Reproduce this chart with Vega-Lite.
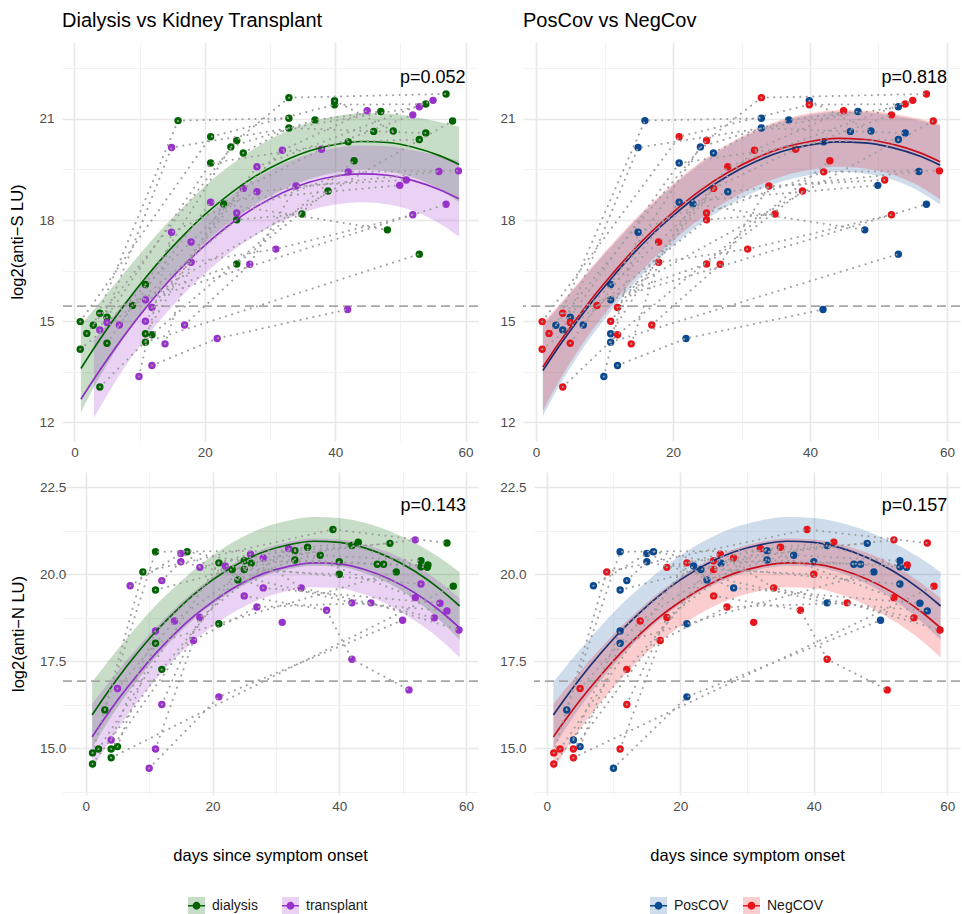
{
"$schema": "https://vega.github.io/schema/vega-lite/v6.json",
"background": "white",
"padding": {"left": 9, "top": 11, "right": 3, "bottom": 2},
"config": {"view": {"stroke": null}, "font": "Liberation Sans", "title": {"fontSize": 20, "fontWeight": "normal", "anchor": "start", "frame": "group", "offset": 11, "color": "#000000"}},
"datasets": {
"S": [
{"d":2.9,"v":14.88,"k":"dialysis","c":"PosCOV","p":"a"},{"d":15.9,"v":20.95,"k":"dialysis","c":"PosCOV","p":"a"},{"d":32.9,"v":21.02,"k":"dialysis","c":"PosCOV","p":"a"},
{"d":5.0,"v":15.12,"k":"dialysis","c":"PosCOV","p":"b"},{"d":20.9,"v":19.69,"k":"dialysis","c":"PosCOV","p":"b"},{"d":42.0,"v":20.32,"k":"dialysis","c":"PosCOV","p":"b"},{"d":52.9,"v":20.39,"k":"dialysis","c":"PosCOV","p":"b"},
{"d":10.9,"v":16.09,"k":"dialysis","c":"PosCOV","p":"c"},{"d":24.0,"v":20.17,"k":"dialysis","c":"PosCOV","p":"c"},{"d":36.9,"v":20.97,"k":"dialysis","c":"PosCOV","p":"c"},{"d":47.0,"v":21.22,"k":"dialysis","c":"PosCOV","p":"c"},
{"d":10.9,"v":14.63,"k":"dialysis","c":"PosCOV","p":"d"},{"d":22.9,"v":18.48,"k":"dialysis","c":"PosCOV","p":"d"},{"d":48.0,"v":17.71,"k":"dialysis","c":"PosCOV","p":"d"},
{"d":10.9,"v":14.38,"k":"dialysis","c":"PosCOV","p":"e"},{"d":52.9,"v":16.99,"k":"dialysis","c":"PosCOV","p":"e"},
{"d":25.9,"v":19.99,"k":"dialysis","c":"PosCOV","p":"f"},{"d":32.9,"v":20.73,"k":"dialysis","c":"PosCOV","p":"f"},{"d":45.9,"v":20.63,"k":"dialysis","c":"PosCOV","p":"f"},{"d":53.9,"v":20.58,"k":"dialysis","c":"PosCOV","p":"f"},
{"d":39.9,"v":21.54,"k":"dialysis","c":"PosCOV","p":"g"},{"d":48.9,"v":20.64,"k":"dialysis","c":"PosCOV","p":"g"},
{"d":0.9,"v":14.99,"k":"dialysis","c":"NegCOV","p":"h"},{"d":20.9,"v":20.47,"k":"dialysis","c":"NegCOV","p":"h"},{"d":39.9,"v":21.42,"k":"dialysis","c":"NegCOV","p":"h"},{"d":53.9,"v":21.44,"k":"dialysis","c":"NegCOV","p":"h"},
{"d":0.9,"v":14.17,"k":"dialysis","c":"NegCOV","p":"i"},{"d":24.9,"v":18.01,"k":"dialysis","c":"NegCOV","p":"i"},{"d":34.9,"v":18.18,"k":"dialysis","c":"NegCOV","p":"i"},
{"d":1.9,"v":14.64,"k":"dialysis","c":"NegCOV","p":"j"},{"d":24.9,"v":20.36,"k":"dialysis","c":"NegCOV","p":"j"},{"d":32.9,"v":21.63,"k":"dialysis","c":"NegCOV","p":"j"},{"d":57.0,"v":21.74,"k":"dialysis","c":"NegCOV","p":"j"},
{"d":3.9,"v":15.24,"k":"dialysis","c":"NegCOV","p":"k"},{"d":24.9,"v":16.70,"k":"dialysis","c":"NegCOV","p":"k"},{"d":38.9,"v":18.86,"k":"dialysis","c":"NegCOV","p":"k"},
{"d":3.9,"v":13.05,"k":"dialysis","c":"NegCOV","p":"l"},{"d":11.9,"v":14.60,"k":"dialysis","c":"NegCOV","p":"l"},{"d":42.9,"v":19.76,"k":"dialysis","c":"NegCOV","p":"l"},
{"d":5.0,"v":14.35,"k":"dialysis","c":"NegCOV","p":"m"},{"d":8.9,"v":15.47,"k":"dialysis","c":"NegCOV","p":"m"},{"d":58.0,"v":20.94,"k":"dialysis","c":"NegCOV","p":"m"},
{"d":3.9,"v":14.74,"k":"transplant","c":"PosCOV","p":"n"},{"d":14.9,"v":20.15,"k":"transplant","c":"PosCOV","p":"n"},{"d":52.9,"v":21.36,"k":"transplant","c":"PosCOV","p":"n"},
{"d":6.9,"v":14.89,"k":"transplant","c":"PosCOV","p":"o"},{"d":20.9,"v":18.53,"k":"transplant","c":"PosCOV","p":"o"},{"d":49.9,"v":19.03,"k":"transplant","c":"PosCOV","p":"o"},
{"d":9.9,"v":13.36,"k":"transplant","c":"PosCOV","p":"q1"},{"d":14.9,"v":17.64,"k":"transplant","c":"PosCOV","p":"q1"},{"d":28.0,"v":18.84,"k":"transplant","c":"PosCOV","p":"q1"},{"d":55.9,"v":19.44,"k":"transplant","c":"PosCOV","p":"q1"},
{"d":11.9,"v":13.69,"k":"transplant","c":"PosCOV","p":"q"},{"d":21.9,"v":14.49,"k":"transplant","c":"PosCOV","p":"q"},{"d":41.9,"v":15.35,"k":"transplant","c":"PosCOV","p":"q"},
{"d":10.9,"v":15.64,"k":"transplant","c":"PosCOV","p":"r"},{"d":57.0,"v":18.47,"k":"transplant","c":"PosCOV","p":"r"},
{"d":5.0,"v":14.96,"k":"transplant","c":"NegCOV","p":"s"},{"d":17.9,"v":17.35,"k":"transplant","c":"NegCOV","p":"s"},{"d":31.9,"v":20.07,"k":"transplant","c":"NegCOV","p":"s"},{"d":44.9,"v":21.24,"k":"transplant","c":"NegCOV","p":"s"},
{"d":10.9,"v":15.00,"k":"transplant","c":"NegCOV","p":"t"},{"d":25.9,"v":18.94,"k":"transplant","c":"NegCOV","p":"t"},{"d":37.9,"v":20.10,"k":"transplant","c":"NegCOV","p":"t"},{"d":51.9,"v":21.12,"k":"transplant","c":"NegCOV","p":"t"},
{"d":11.9,"v":15.41,"k":"transplant","c":"NegCOV","p":"u"},{"d":28.0,"v":19.58,"k":"transplant","c":"NegCOV","p":"u"},{"d":55.0,"v":21.55,"k":"transplant","c":"NegCOV","p":"u"},
{"d":13.9,"v":14.33,"k":"transplant","c":"NegCOV","p":"v"},{"d":17.9,"v":16.75,"k":"transplant","c":"NegCOV","p":"v"},{"d":30.9,"v":17.14,"k":"transplant","c":"NegCOV","p":"v"},{"d":51.9,"v":18.16,"k":"transplant","c":"NegCOV","p":"v"},
{"d":16.9,"v":14.89,"k":"transplant","c":"NegCOV","p":"w"},{"d":26.9,"v":16.69,"k":"transplant","c":"NegCOV","p":"w"},{"d":34.0,"v":19.01,"k":"transplant","c":"NegCOV","p":"w"},{"d":50.9,"v":19.19,"k":"transplant","c":"NegCOV","p":"w"},
{"d":24.9,"v":18.21,"k":"transplant","c":"NegCOV","p":"x"},{"d":42.0,"v":19.43,"k":"transplant","c":"NegCOV","p":"x"},{"d":58.9,"v":19.46,"k":"transplant","c":"NegCOV","p":"x"}
],
"N": [
{"d":3.0,"v":16.10,"k":"dialysis","c":"PosCOV","p":"A"},{"d":11.0,"v":20.65,"k":"dialysis","c":"PosCOV","p":"A"},{"d":33.0,"v":20.68,"k":"dialysis","c":"PosCOV","p":"A"},{"d":48.0,"v":20.89,"k":"dialysis","c":"PosCOV","p":"A"},
{"d":5.0,"v":15.05,"k":"dialysis","c":"PosCOV","p":"B"},{"d":11.0,"v":18.02,"k":"dialysis","c":"PosCOV","p":"B"},{"d":21.0,"v":18.58,"k":"dialysis","c":"PosCOV","p":"B"},{"d":49.0,"v":20.07,"k":"dialysis","c":"PosCOV","p":"B"},
{"d":11.0,"v":19.55,"k":"dialysis","c":"PosCOV","p":"C"},{"d":23.1,"v":20.14,"k":"dialysis","c":"PosCOV","p":"C"},{"d":37.0,"v":20.55,"k":"dialysis","c":"PosCOV","p":"C"},{"d":52.9,"v":20.39,"k":"dialysis","c":"PosCOV","p":"C"},
{"d":16.0,"v":20.65,"k":"dialysis","c":"PosCOV","p":"D"},{"d":26.1,"v":20.32,"k":"dialysis","c":"PosCOV","p":"D"},{"d":42.0,"v":20.83,"k":"dialysis","c":"PosCOV","p":"D"},{"d":52.9,"v":20.22,"k":"dialysis","c":"PosCOV","p":"D"},
{"d":24.0,"v":19.84,"k":"dialysis","c":"PosCOV","p":"E"},{"d":33.0,"v":20.41,"k":"dialysis","c":"PosCOV","p":"E"},{"d":46.0,"v":20.29,"k":"dialysis","c":"PosCOV","p":"E"},{"d":53.9,"v":20.20,"k":"dialysis","c":"PosCOV","p":"E"},
{"d":40.0,"v":20.36,"k":"dialysis","c":"PosCOV","p":"F"},{"d":47.0,"v":20.29,"k":"dialysis","c":"PosCOV","p":"F"},
{"d":1.06,"v":14.55,"k":"dialysis","c":"NegCOV","p":"G"},{"d":12.0,"v":17.27,"k":"dialysis","c":"NegCOV","p":"G"},{"d":25.0,"v":20.14,"k":"dialysis","c":"NegCOV","p":"G"},{"d":40.0,"v":20.00,"k":"dialysis","c":"NegCOV","p":"G"},
{"d":1.06,"v":14.87,"k":"dialysis","c":"NegCOV","p":"H"},{"d":9.0,"v":20.07,"k":"dialysis","c":"NegCOV","p":"H"},{"d":39.0,"v":21.29,"k":"dialysis","c":"NegCOV","p":"H"},{"d":57.0,"v":20.90,"k":"dialysis","c":"NegCOV","p":"H"},
{"d":2.0,"v":14.98,"k":"dialysis","c":"NegCOV","p":"I"},{"d":21.0,"v":20.33,"k":"dialysis","c":"NegCOV","p":"I"},{"d":35.0,"v":20.78,"k":"dialysis","c":"NegCOV","p":"I"},{"d":43.0,"v":20.92,"k":"dialysis","c":"NegCOV","p":"I"},
{"d":4.0,"v":14.98,"k":"dialysis","c":"NegCOV","p":"J"},{"d":25.0,"v":20.39,"k":"dialysis","c":"NegCOV","p":"J"},{"d":54.0,"v":20.27,"k":"dialysis","c":"NegCOV","p":"J"},
{"d":4.0,"v":14.73,"k":"dialysis","c":"NegCOV","p":"K"},{"d":58.0,"v":19.66,"k":"dialysis","c":"NegCOV","p":"K"},
{"d":4.0,"v":15.24,"k":"transplant","c":"PosCOV","p":"L"},{"d":11.0,"v":18.37,"k":"transplant","c":"PosCOV","p":"L"},{"d":22.0,"v":20.24,"k":"transplant","c":"PosCOV","p":"L"},{"d":52.9,"v":19.72,"k":"transplant","c":"PosCOV","p":"L"},
{"d":7.0,"v":19.67,"k":"transplant","c":"PosCOV","p":"M"},{"d":15.0,"v":20.60,"k":"transplant","c":"PosCOV","p":"M"},{"d":28.0,"v":19.61,"k":"transplant","c":"PosCOV","p":"M"},{"d":55.9,"v":19.17,"k":"transplant","c":"PosCOV","p":"M"},
{"d":10.0,"v":14.43,"k":"transplant","c":"PosCOV","p":"N"},{"d":21.0,"v":16.48,"k":"transplant","c":"PosCOV","p":"N"},{"d":50.0,"v":18.68,"k":"transplant","c":"PosCOV","p":"N"},
{"d":12.0,"v":19.82,"k":"transplant","c":"PosCOV","p":"O"},{"d":15.0,"v":20.36,"k":"transplant","c":"PosCOV","p":"O"},{"d":42.0,"v":19.18,"k":"transplant","c":"PosCOV","p":"O"},{"d":57.0,"v":18.95,"k":"transplant","c":"PosCOV","p":"O"},
{"d":5.0,"v":16.72,"k":"transplant","c":"NegCOV","p":"P"},{"d":14.0,"v":18.66,"k":"transplant","c":"NegCOV","p":"P"},{"d":28.0,"v":20.47,"k":"transplant","c":"NegCOV","p":"P"},{"d":52.0,"v":20.99,"k":"transplant","c":"NegCOV","p":"P"},
{"d":12.0,"v":16.26,"k":"transplant","c":"NegCOV","p":"Q"},{"d":18.0,"v":18.76,"k":"transplant","c":"NegCOV","p":"Q"},{"d":32.0,"v":20.74,"k":"transplant","c":"NegCOV","p":"Q"},{"d":52.0,"v":19.33,"k":"transplant","c":"NegCOV","p":"Q"},
{"d":11.0,"v":14.98,"k":"transplant","c":"NegCOV","p":"R"},{"d":17.0,"v":18.10,"k":"transplant","c":"NegCOV","p":"R"},{"d":27.0,"v":19.06,"k":"transplant","c":"NegCOV","p":"R"},{"d":45.0,"v":19.18,"k":"transplant","c":"NegCOV","p":"R"},{"d":58.9,"v":18.40,"k":"transplant","c":"NegCOV","p":"R"},
{"d":18.0,"v":20.20,"k":"transplant","c":"NegCOV","p":"S"},{"d":26.0,"v":20.58,"k":"transplant","c":"NegCOV","p":"S"},{"d":34.0,"v":19.61,"k":"transplant","c":"NegCOV","p":"S"},{"d":55.0,"v":18.75,"k":"transplant","c":"NegCOV","p":"S"},
{"d":25.0,"v":19.38,"k":"transplant","c":"NegCOV","p":"T"},{"d":38.0,"v":18.97,"k":"transplant","c":"NegCOV","p":"T"},{"d":42.0,"v":17.56,"k":"transplant","c":"NegCOV","p":"T"},{"d":51.0,"v":16.68,"k":"transplant","c":"NegCOV","p":"T"},
{"d":31.0,"v":18.62,"k":"transplant","c":"NegCOV","p":"U"}
],
"fSk": [
{"d":1,"g":"dialysis","f":13.60,"lo":12.30,"hi":14.90},{"d":3,"g":"dialysis","f":14.20,"lo":13.05,"hi":15.35},{"d":5,"g":"dialysis","f":14.77,"lo":13.72,"hi":15.82},{"d":8,"g":"dialysis","f":15.57,"lo":14.62,"hi":16.52},{"d":11,"g":"dialysis","f":16.31,"lo":15.41,"hi":17.21},{"d":14,"g":"dialysis","f":16.99,"lo":16.12,"hi":17.86},{"d":17,"g":"dialysis","f":17.60,"lo":16.75,"hi":18.45},{"d":20,"g":"dialysis","f":18.16,"lo":17.32,"hi":19.00},{"d":24,"g":"dialysis","f":18.80,"lo":17.96,"hi":19.64},{"d":28,"g":"dialysis","f":19.33,"lo":18.49,"hi":20.17},{"d":32,"g":"dialysis","f":19.74,"lo":18.90,"hi":20.58},{"d":36,"g":"dialysis","f":20.05,"lo":19.21,"hi":20.89},{"d":40,"g":"dialysis","f":20.24,"lo":19.40,"hi":21.08},{"d":44,"g":"dialysis","f":20.33,"lo":19.49,"hi":21.17},{"d":48,"g":"dialysis","f":20.30,"lo":19.44,"hi":21.16},{"d":52,"g":"dialysis","f":20.16,"lo":19.26,"hi":21.06},{"d":56,"g":"dialysis","f":19.91,"lo":18.91,"hi":20.91},{"d":59,"g":"dialysis","f":19.65,"lo":18.53,"hi":20.77},
{"d":1,"g":"transplant","f":12.69,"lo":null,"hi":null},{"d":3,"g":"transplant","f":13.29,"lo":12.14,"hi":14.44},{"d":5,"g":"transplant","f":13.86,"lo":12.81,"hi":14.91},{"d":8,"g":"transplant","f":14.67,"lo":13.72,"hi":15.62},{"d":11,"g":"transplant","f":15.41,"lo":14.51,"hi":16.31},{"d":14,"g":"transplant","f":16.09,"lo":15.22,"hi":16.96},{"d":17,"g":"transplant","f":16.70,"lo":15.85,"hi":17.55},{"d":20,"g":"transplant","f":17.25,"lo":16.41,"hi":18.09},{"d":24,"g":"transplant","f":17.89,"lo":17.05,"hi":18.73},{"d":28,"g":"transplant","f":18.41,"lo":17.57,"hi":19.25},{"d":32,"g":"transplant","f":18.82,"lo":17.98,"hi":19.66},{"d":36,"g":"transplant","f":19.12,"lo":18.28,"hi":19.96},{"d":40,"g":"transplant","f":19.30,"lo":18.46,"hi":20.14},{"d":44,"g":"transplant","f":19.37,"lo":18.53,"hi":20.21},{"d":48,"g":"transplant","f":19.33,"lo":18.47,"hi":20.19},{"d":52,"g":"transplant","f":19.17,"lo":18.27,"hi":20.07},{"d":56,"g":"transplant","f":18.90,"lo":17.90,"hi":19.90},{"d":59,"g":"transplant","f":18.63,"lo":17.51,"hi":19.75}
],
"fSc": [
{"d":1,"g":"PosCOV","f":13.54,"lo":12.19,"hi":14.89},{"d":3,"g":"PosCOV","f":14.15,"lo":12.95,"hi":15.35},{"d":5,"g":"PosCOV","f":14.72,"lo":13.62,"hi":15.82},{"d":8,"g":"PosCOV","f":15.53,"lo":14.53,"hi":16.53},{"d":11,"g":"PosCOV","f":16.27,"lo":15.32,"hi":17.22},{"d":14,"g":"PosCOV","f":16.96,"lo":16.04,"hi":17.88},{"d":17,"g":"PosCOV","f":17.58,"lo":16.68,"hi":18.48},{"d":20,"g":"PosCOV","f":18.13,"lo":17.24,"hi":19.02},{"d":24,"g":"PosCOV","f":18.78,"lo":17.89,"hi":19.67},{"d":28,"g":"PosCOV","f":19.31,"lo":18.42,"hi":20.20},{"d":32,"g":"PosCOV","f":19.73,"lo":18.84,"hi":20.62},{"d":36,"g":"PosCOV","f":20.04,"lo":19.15,"hi":20.93},{"d":40,"g":"PosCOV","f":20.23,"lo":19.34,"hi":21.12},{"d":44,"g":"PosCOV","f":20.32,"lo":19.43,"hi":21.21},{"d":48,"g":"PosCOV","f":20.29,"lo":19.38,"hi":21.20},{"d":52,"g":"PosCOV","f":20.15,"lo":19.20,"hi":21.10},{"d":56,"g":"PosCOV","f":19.90,"lo":18.85,"hi":20.95},{"d":59,"g":"PosCOV","f":19.63,"lo":18.46,"hi":20.80},
{"d":1,"g":"NegCOV","f":13.64,"lo":12.34,"hi":14.94},{"d":3,"g":"NegCOV","f":14.25,"lo":13.10,"hi":15.40},{"d":5,"g":"NegCOV","f":14.82,"lo":13.77,"hi":15.87},{"d":8,"g":"NegCOV","f":15.63,"lo":14.68,"hi":16.58},{"d":11,"g":"NegCOV","f":16.37,"lo":15.47,"hi":17.27},{"d":14,"g":"NegCOV","f":17.06,"lo":16.19,"hi":17.93},{"d":17,"g":"NegCOV","f":17.68,"lo":16.83,"hi":18.53},{"d":20,"g":"NegCOV","f":18.23,"lo":17.39,"hi":19.07},{"d":24,"g":"NegCOV","f":18.88,"lo":18.04,"hi":19.72},{"d":28,"g":"NegCOV","f":19.41,"lo":18.57,"hi":20.25},{"d":32,"g":"NegCOV","f":19.83,"lo":18.99,"hi":20.67},{"d":36,"g":"NegCOV","f":20.14,"lo":19.30,"hi":20.98},{"d":40,"g":"NegCOV","f":20.33,"lo":19.49,"hi":21.17},{"d":44,"g":"NegCOV","f":20.42,"lo":19.58,"hi":21.26},{"d":48,"g":"NegCOV","f":20.39,"lo":19.53,"hi":21.25},{"d":52,"g":"NegCOV","f":20.25,"lo":19.35,"hi":21.15},{"d":56,"g":"NegCOV","f":20.00,"lo":19.00,"hi":21.00},{"d":59,"g":"NegCOV","f":19.73,"lo":18.61,"hi":20.85}
],
"fNk": [
{"d":1,"g":"dialysis","f":15.96,"lo":15.01,"hi":16.91},{"d":3,"g":"dialysis","f":16.50,"lo":15.62,"hi":17.38},{"d":5,"g":"dialysis","f":17.01,"lo":16.18,"hi":17.84},{"d":8,"g":"dialysis","f":17.71,"lo":16.93,"hi":18.49},{"d":11,"g":"dialysis","f":18.35,"lo":17.60,"hi":19.10},{"d":14,"g":"dialysis","f":18.91,"lo":18.19,"hi":19.63},{"d":17,"g":"dialysis","f":19.41,"lo":18.70,"hi":20.12},{"d":20,"g":"dialysis","f":19.84,"lo":19.14,"hi":20.54},{"d":24,"g":"dialysis","f":20.30,"lo":19.60,"hi":21.00},{"d":28,"g":"dialysis","f":20.64,"lo":19.94,"hi":21.34},{"d":32,"g":"dialysis","f":20.85,"lo":20.15,"hi":21.55},{"d":36,"g":"dialysis","f":20.95,"lo":20.25,"hi":21.65},{"d":40,"g":"dialysis","f":20.92,"lo":20.22,"hi":21.62},{"d":44,"g":"dialysis","f":20.76,"lo":20.04,"hi":21.48},{"d":48,"g":"dialysis","f":20.48,"lo":19.72,"hi":21.24},{"d":52,"g":"dialysis","f":20.08,"lo":19.26,"hi":20.90},{"d":56,"g":"dialysis","f":19.56,"lo":18.66,"hi":20.46},{"d":59,"g":"dialysis","f":19.09,"lo":18.12,"hi":20.06},
{"d":1,"g":"transplant","f":15.33,"lo":14.38,"hi":16.28},{"d":3,"g":"transplant","f":15.87,"lo":14.99,"hi":16.75},{"d":5,"g":"transplant","f":16.38,"lo":15.55,"hi":17.21},{"d":8,"g":"transplant","f":17.08,"lo":16.30,"hi":17.86},{"d":11,"g":"transplant","f":17.72,"lo":16.97,"hi":18.47},{"d":14,"g":"transplant","f":18.29,"lo":17.57,"hi":19.01},{"d":17,"g":"transplant","f":18.79,"lo":18.08,"hi":19.50},{"d":20,"g":"transplant","f":19.21,"lo":18.51,"hi":19.91},{"d":24,"g":"transplant","f":19.68,"lo":18.98,"hi":20.38},{"d":28,"g":"transplant","f":20.02,"lo":19.32,"hi":20.72},{"d":32,"g":"transplant","f":20.23,"lo":19.53,"hi":20.93},{"d":36,"g":"transplant","f":20.33,"lo":19.63,"hi":21.03},{"d":40,"g":"transplant","f":20.30,"lo":19.60,"hi":21.00},{"d":44,"g":"transplant","f":20.14,"lo":19.42,"hi":20.86},{"d":48,"g":"transplant","f":19.86,"lo":19.10,"hi":20.62},{"d":52,"g":"transplant","f":19.46,"lo":18.66,"hi":20.26},{"d":56,"g":"transplant","f":18.94,"lo":18.12,"hi":19.76},{"d":59,"g":"transplant","f":18.46,"lo":17.61,"hi":19.31}
],
"fNc": [
{"d":1,"g":"PosCOV","f":15.96,"lo":15.01,"hi":16.91},{"d":3,"g":"PosCOV","f":16.50,"lo":15.62,"hi":17.38},{"d":5,"g":"PosCOV","f":17.01,"lo":16.18,"hi":17.84},{"d":8,"g":"PosCOV","f":17.71,"lo":16.93,"hi":18.49},{"d":11,"g":"PosCOV","f":18.35,"lo":17.60,"hi":19.10},{"d":14,"g":"PosCOV","f":18.91,"lo":18.19,"hi":19.63},{"d":17,"g":"PosCOV","f":19.41,"lo":18.70,"hi":20.12},{"d":20,"g":"PosCOV","f":19.84,"lo":19.14,"hi":20.54},{"d":24,"g":"PosCOV","f":20.30,"lo":19.60,"hi":21.00},{"d":28,"g":"PosCOV","f":20.64,"lo":19.94,"hi":21.34},{"d":32,"g":"PosCOV","f":20.85,"lo":20.15,"hi":21.55},{"d":36,"g":"PosCOV","f":20.95,"lo":20.25,"hi":21.65},{"d":40,"g":"PosCOV","f":20.92,"lo":20.22,"hi":21.62},{"d":44,"g":"PosCOV","f":20.76,"lo":20.04,"hi":21.48},{"d":48,"g":"PosCOV","f":20.48,"lo":19.72,"hi":21.24},{"d":52,"g":"PosCOV","f":20.08,"lo":19.26,"hi":20.90},{"d":56,"g":"PosCOV","f":19.56,"lo":18.66,"hi":20.46},{"d":59,"g":"PosCOV","f":19.09,"lo":18.12,"hi":20.06},
{"d":1,"g":"NegCOV","f":15.33,"lo":14.38,"hi":16.28},{"d":3,"g":"NegCOV","f":15.87,"lo":14.99,"hi":16.75},{"d":5,"g":"NegCOV","f":16.38,"lo":15.55,"hi":17.21},{"d":8,"g":"NegCOV","f":17.08,"lo":16.30,"hi":17.86},{"d":11,"g":"NegCOV","f":17.72,"lo":16.97,"hi":18.47},{"d":14,"g":"NegCOV","f":18.29,"lo":17.57,"hi":19.01},{"d":17,"g":"NegCOV","f":18.79,"lo":18.08,"hi":19.50},{"d":20,"g":"NegCOV","f":19.21,"lo":18.51,"hi":19.91},{"d":24,"g":"NegCOV","f":19.68,"lo":18.98,"hi":20.38},{"d":28,"g":"NegCOV","f":20.02,"lo":19.32,"hi":20.72},{"d":32,"g":"NegCOV","f":20.23,"lo":19.53,"hi":20.93},{"d":36,"g":"NegCOV","f":20.33,"lo":19.63,"hi":21.03},{"d":40,"g":"NegCOV","f":20.30,"lo":19.60,"hi":21.00},{"d":44,"g":"NegCOV","f":20.14,"lo":19.42,"hi":20.86},{"d":48,"g":"NegCOV","f":19.86,"lo":19.10,"hi":20.62},{"d":52,"g":"NegCOV","f":19.46,"lo":18.66,"hi":20.26},{"d":56,"g":"NegCOV","f":18.94,"lo":18.12,"hi":19.76},{"d":59,"g":"NegCOV","f":18.46,"lo":17.61,"hi":19.31}
]
},
"columns": 2,
"align": "none",
"spacing": {"row": 13, "column": 20},
"resolve": {"scale": {"x": "independent", "y": "independent", "color": "independent", "fill": "independent", "stroke": "independent"}},
"concat": [
{"width": 416, "height": 399, "title": "Dialysis vs Kidney Transplant",
 "layer": [
  {"data": {"name": "fSk"}, "mark": {"type": "area", "fillOpacity": 0.22, "interpolate": "monotone"},
   "encoding": {"x": {"field": "d", "type": "quantitative", "scale": {"domain": [-1.9, 61.9], "nice": false, "zero": false}, "axis": {"orient": "bottom", "values": [10, 30, 50], "grid": true, "gridColor": "#f2f2f2", "gridWidth": 1, "ticks": false, "domain": false, "labels": false, "title": null}},
    "y": {"field": "lo", "type": "quantitative", "scale": {"domain": [11.45, 23.28], "nice": false, "zero": false}, "axis": {"orient": "left", "values": [13.5, 16.5, 19.5, 22.5], "grid": true, "gridColor": "#f2f2f2", "gridWidth": 1, "ticks": false, "domain": false, "labels": false, "title": null}},
    "y2": {"field": "hi"},
    "fill": {"field": "g", "type": "nominal", "scale": {"domain": ["dialysis", "transplant"], "range": ["#006400", "#9932CC"]}, "legend": null}}},
  {"data": {"values": [{"thr": 15.45}]}, "mark": {"type": "rule", "color": "#a6a6a6", "strokeWidth": 1.8, "strokeDash": [9, 5]},
   "encoding": {"y": {"field": "thr", "type": "quantitative", "scale": {"domain": [11.45, 23.28], "nice": false, "zero": false}, "axis": null}}},
  {"data": {"name": "S"}, "mark": {"type": "point", "filled": true, "opacity": 1, "size": 55},
   "encoding": {"x": {"field": "d", "type": "quantitative", "scale": {"domain": [-1.9, 61.9], "nice": false, "zero": false}, "axis": {"orient": "bottom", "values": [0, 20, 40, 60], "title": null, "grid": true, "gridColor": "#e8e8e8", "gridWidth": 1.6, "ticks": false, "domain": false, "labelFontSize": 13.5, "labelColor": "#4d4d4d", "labelPadding": 4}},
    "y": {"field": "v", "type": "quantitative", "scale": {"domain": [11.45, 23.28], "nice": false, "zero": false}, "axis": {"orient": "left", "values": [12, 15, 18, 21], "title": "log2(anti−S LU)", "titleFontSize": 16.5, "titleFontWeight": "normal", "titleColor": "#000000", "titlePadding": 13, "grid": true, "gridColor": "#e8e8e8", "gridWidth": 1.6, "ticks": false, "domain": false, "labelFontSize": 13.5, "labelColor": "#4d4d4d", "labelPadding": 8}},
    "color": {"field": "k", "type": "nominal", "scale": {"domain": ["dialysis", "transplant"], "range": ["#006400", "#9932CC"]}, "legend": null}}},
  {"data": {"name": "fSk"}, "mark": {"type": "line", "strokeWidth": 1.7, "interpolate": "monotone"},
   "encoding": {"x": {"field": "d", "type": "quantitative", "scale": {"domain": [-1.9, 61.9], "nice": false, "zero": false}, "axis": null},
    "y": {"field": "f", "type": "quantitative", "scale": {"domain": [11.45, 23.28], "nice": false, "zero": false}, "axis": null},
    "stroke": {"field": "g", "type": "nominal", "scale": {"domain": ["dialysis", "transplant"], "range": ["#006400", "#8f2fc4"]}, "legend": null}}},
  {"data": {"name": "S"}, "mark": {"type": "line", "color": "#9e9e9e", "strokeWidth": 2, "strokeDash": [0.1, 6.4], "strokeCap": "round"},
   "encoding": {"x": {"field": "d", "type": "quantitative", "scale": {"domain": [-1.9, 61.9], "nice": false, "zero": false}, "axis": null},
    "y": {"field": "v", "type": "quantitative", "scale": {"domain": [11.45, 23.28], "nice": false, "zero": false}, "axis": null},
    "detail": {"field": "p", "type": "nominal"}}},
  {"data": {"values": [{"t": "p=0.052"}]}, "mark": {"type": "text", "align": "right", "baseline": "middle", "fontSize": 18, "color": "#000000"},
   "encoding": {"x": {"datum": 60, "type": "quantitative", "scale": {"domain": [-1.9, 61.9], "nice": false, "zero": false}, "axis": null},
    "y": {"datum": 22.2, "type": "quantitative", "scale": {"domain": [11.45, 23.28], "nice": false, "zero": false}, "axis": null},
    "text": {"field": "t"}}}
 ],
 "resolve": {"axis": {"x": "independent", "y": "independent"}}
},
{"width": 437, "height": 399, "title": "PosCov vs NegCov",
 "layer": [
  {"data": {"name": "fSc"}, "mark": {"type": "area", "fillOpacity": 0.22, "interpolate": "monotone"},
   "encoding": {"x": {"field": "d", "type": "quantitative", "scale": {"domain": [-1.9, 61.9], "nice": false, "zero": false}, "axis": {"orient": "bottom", "values": [10, 30, 50], "grid": true, "gridColor": "#f2f2f2", "gridWidth": 1, "ticks": false, "domain": false, "labels": false, "title": null}},
    "y": {"field": "lo", "type": "quantitative", "scale": {"domain": [11.45, 23.28], "nice": false, "zero": false}, "axis": {"orient": "left", "values": [13.5, 16.5, 19.5, 22.5], "grid": true, "gridColor": "#f2f2f2", "gridWidth": 1, "ticks": false, "domain": false, "labels": false, "title": null}},
    "y2": {"field": "hi"},
    "fill": {"field": "g", "type": "nominal", "scale": {"domain": ["PosCOV", "NegCOV"], "range": ["#1f5fa8", "#ee1c25"]}, "legend": null}}},
  {"data": {"values": [{"thr": 15.45}]}, "mark": {"type": "rule", "color": "#a6a6a6", "strokeWidth": 1.8, "strokeDash": [9, 5]},
   "encoding": {"y": {"field": "thr", "type": "quantitative", "scale": {"domain": [11.45, 23.28], "nice": false, "zero": false}, "axis": null}}},
  {"data": {"name": "S"}, "mark": {"type": "point", "filled": true, "opacity": 1, "size": 55},
   "encoding": {"x": {"field": "d", "type": "quantitative", "scale": {"domain": [-1.9, 61.9], "nice": false, "zero": false}, "axis": {"orient": "bottom", "values": [0, 20, 40, 60], "title": null, "grid": true, "gridColor": "#e8e8e8", "gridWidth": 1.6, "ticks": false, "domain": false, "labelFontSize": 13.5, "labelColor": "#4d4d4d", "labelPadding": 4}},
    "y": {"field": "v", "type": "quantitative", "scale": {"domain": [11.45, 23.28], "nice": false, "zero": false}, "axis": {"orient": "left", "values": [12, 15, 18, 21], "title": null, "grid": true, "gridColor": "#e8e8e8", "gridWidth": 1.6, "ticks": false, "domain": false, "labelFontSize": 13.5, "labelColor": "#4d4d4d", "labelPadding": 8}},
    "color": {"field": "c", "type": "nominal", "scale": {"domain": ["PosCOV", "NegCOV"], "range": ["#0b4a90", "#e8141c"]}, "legend": null}}},
  {"data": {"name": "fSc"}, "mark": {"type": "line", "strokeWidth": 1.7, "interpolate": "monotone"},
   "encoding": {"x": {"field": "d", "type": "quantitative", "scale": {"domain": [-1.9, 61.9], "nice": false, "zero": false}, "axis": null},
    "y": {"field": "f", "type": "quantitative", "scale": {"domain": [11.45, 23.28], "nice": false, "zero": false}, "axis": null},
    "stroke": {"field": "g", "type": "nominal", "scale": {"domain": ["PosCOV", "NegCOV"], "range": ["#1b2f73", "#c8101c"]}, "legend": null}}},
  {"data": {"name": "S"}, "mark": {"type": "line", "color": "#9e9e9e", "strokeWidth": 2, "strokeDash": [0.1, 6.4], "strokeCap": "round"},
   "encoding": {"x": {"field": "d", "type": "quantitative", "scale": {"domain": [-1.9, 61.9], "nice": false, "zero": false}, "axis": null},
    "y": {"field": "v", "type": "quantitative", "scale": {"domain": [11.45, 23.28], "nice": false, "zero": false}, "axis": null},
    "detail": {"field": "p", "type": "nominal"}}},
  {"data": {"values": [{"t": "p=0.818"}]}, "mark": {"type": "text", "align": "right", "baseline": "middle", "fontSize": 18, "color": "#000000"},
   "encoding": {"x": {"datum": 60, "type": "quantitative", "scale": {"domain": [-1.9, 61.9], "nice": false, "zero": false}, "axis": null},
    "y": {"datum": 22.2, "type": "quantitative", "scale": {"domain": [11.45, 23.28], "nice": false, "zero": false}, "axis": null},
    "text": {"field": "t"}}}
 ],
 "resolve": {"axis": {"x": "independent", "y": "independent"}}
},
{"width": 416, "height": 323,
 "layer": [
  {"data": {"name": "fNk"}, "mark": {"type": "area", "fillOpacity": 0.22, "interpolate": "monotone"},
   "encoding": {"x": {"field": "d", "type": "quantitative", "scale": {"domain": [-3.76, 61.9], "nice": false, "zero": false}, "axis": {"orient": "bottom", "values": [10, 30, 50], "grid": true, "gridColor": "#f2f2f2", "gridWidth": 1, "ticks": false, "domain": false, "labels": false, "title": null}},
    "y": {"field": "lo", "type": "quantitative", "scale": {"domain": [13.66, 22.94], "nice": false, "zero": false}, "axis": {"orient": "left", "values": [13.75, 16.25, 18.75, 21.25], "grid": true, "gridColor": "#f2f2f2", "gridWidth": 1, "ticks": false, "domain": false, "labels": false, "title": null}},
    "y2": {"field": "hi"},
    "fill": {"field": "g", "type": "nominal", "scale": {"domain": ["transplant", "dialysis"], "range": ["#9932CC", "#006400"]}, "legend": {"values": ["dialysis", "transplant"], "orient": "none", "legendX": 126, "legendY": 425, "direction": "horizontal", "title": null, "symbolType": "square", "symbolSize": 289, "symbolOpacity": 0.22, "symbolStrokeWidth": 0, "labelFontSize": 14, "labelColor": "transparent", "labelOffset": 7, "columnPadding": 24, "zindex": 1}}}},
  {"data": {"values": [{"thr": 16.93}]}, "mark": {"type": "rule", "color": "#a6a6a6", "strokeWidth": 1.8, "strokeDash": [9, 5]},
   "encoding": {"y": {"field": "thr", "type": "quantitative", "scale": {"domain": [13.66, 22.94], "nice": false, "zero": false}, "axis": null}}},
  {"data": {"name": "N"}, "mark": {"type": "point", "filled": true, "opacity": 1, "size": 55},
   "encoding": {"x": {"field": "d", "type": "quantitative", "scale": {"domain": [-3.76, 61.9], "nice": false, "zero": false}, "axis": {"orient": "bottom", "values": [0, 20, 40, 60], "title": "days since symptom onset", "titleFontSize": 16.5, "titleFontWeight": "normal", "titleColor": "#000000", "titlePadding": 35, "grid": true, "gridColor": "#e8e8e8", "gridWidth": 1.6, "ticks": false, "domain": false, "labelFontSize": 13.5, "labelColor": "#4d4d4d", "labelPadding": 4}},
    "y": {"field": "v", "type": "quantitative", "scale": {"domain": [13.66, 22.94], "nice": false, "zero": false}, "axis": {"orient": "left", "values": [15, 17.5, 20, 22.5], "format": ".1f", "title": "log2(anti−N LU)", "titleFontSize": 16.5, "titleFontWeight": "normal", "titleColor": "#000000", "titlePadding": 13, "grid": true, "gridColor": "#e8e8e8", "gridWidth": 1.6, "ticks": false, "domain": false, "labelFontSize": 13.5, "labelColor": "#4d4d4d", "labelPadding": -3.8}},
    "color": {"field": "k", "type": "nominal", "scale": {"domain": ["dialysis", "transplant"], "range": ["#006400", "#9932CC"]}, "legend": {"orient": "none", "legendX": 126, "legendY": 425, "direction": "horizontal", "title": null, "symbolType": "M-1,-0.09H1V0.09H-1Z M0.46,0A0.46,0.46,0,1,1,-0.46,0A0.46,0.46,0,1,1,0.46,0Z", "symbolSize": 289, "symbolStrokeWidth": 0, "labelFontSize": 14, "labelColor": "#1a1a1a", "labelOffset": 7, "columnPadding": 24, "zindex": 2}}}},
  {"data": {"name": "fNk"}, "mark": {"type": "line", "strokeWidth": 1.7, "interpolate": "monotone"},
   "encoding": {"x": {"field": "d", "type": "quantitative", "scale": {"domain": [-3.76, 61.9], "nice": false, "zero": false}, "axis": null},
    "y": {"field": "f", "type": "quantitative", "scale": {"domain": [13.66, 22.94], "nice": false, "zero": false}, "axis": null},
    "stroke": {"field": "g", "type": "nominal", "scale": {"domain": ["dialysis", "transplant"], "range": ["#006400", "#8f2fc4"]}, "legend": null}}},
  {"data": {"name": "N"}, "mark": {"type": "line", "color": "#9e9e9e", "strokeWidth": 2, "strokeDash": [0.1, 6.4], "strokeCap": "round"},
   "encoding": {"x": {"field": "d", "type": "quantitative", "scale": {"domain": [-3.76, 61.9], "nice": false, "zero": false}, "axis": null},
    "y": {"field": "v", "type": "quantitative", "scale": {"domain": [13.66, 22.94], "nice": false, "zero": false}, "axis": null},
    "detail": {"field": "p", "type": "nominal"}}},
  {"data": {"values": [{"t": "p=0.143"}]}, "mark": {"type": "text", "align": "right", "baseline": "middle", "fontSize": 18, "color": "#000000"},
   "encoding": {"x": {"datum": 60, "type": "quantitative", "scale": {"domain": [-3.76, 61.9], "nice": false, "zero": false}, "axis": null},
    "y": {"datum": 21.96, "type": "quantitative", "scale": {"domain": [13.66, 22.94], "nice": false, "zero": false}, "axis": null},
    "text": {"field": "t"}}}
 ],
 "resolve": {"axis": {"x": "independent", "y": "independent"}}
},
{"width": 426, "height": 323,
 "layer": [
  {"data": {"name": "fNc"}, "mark": {"type": "area", "fillOpacity": 0.22, "interpolate": "monotone"},
   "encoding": {"x": {"field": "d", "type": "quantitative", "scale": {"domain": [-1.9, 61.9], "nice": false, "zero": false}, "axis": {"orient": "bottom", "values": [10, 30, 50], "grid": true, "gridColor": "#f2f2f2", "gridWidth": 1, "ticks": false, "domain": false, "labels": false, "title": null}},
    "y": {"field": "lo", "type": "quantitative", "scale": {"domain": [13.66, 22.94], "nice": false, "zero": false}, "axis": {"orient": "left", "values": [13.75, 16.25, 18.75, 21.25], "grid": true, "gridColor": "#f2f2f2", "gridWidth": 1, "ticks": false, "domain": false, "labels": false, "title": null}},
    "y2": {"field": "hi"},
    "fill": {"field": "g", "type": "nominal", "scale": {"domain": ["NegCOV", "PosCOV"], "range": ["#ee1c25", "#1f5fa8"]}, "legend": {"values": ["PosCOV", "NegCOV"], "orient": "none", "legendX": 116, "legendY": 425, "direction": "horizontal", "title": null, "symbolType": "square", "symbolSize": 289, "symbolOpacity": 0.22, "symbolStrokeWidth": 0, "labelFontSize": 14, "labelColor": "transparent", "labelOffset": 7, "columnPadding": 14, "zindex": 1}}}},
  {"data": {"values": [{"thr": 16.93}]}, "mark": {"type": "rule", "color": "#a6a6a6", "strokeWidth": 1.8, "strokeDash": [9, 5]},
   "encoding": {"y": {"field": "thr", "type": "quantitative", "scale": {"domain": [13.66, 22.94], "nice": false, "zero": false}, "axis": null}}},
  {"data": {"name": "N"}, "mark": {"type": "point", "filled": true, "opacity": 1, "size": 55},
   "encoding": {"x": {"field": "d", "type": "quantitative", "scale": {"domain": [-1.9, 61.9], "nice": false, "zero": false}, "axis": {"orient": "bottom", "values": [0, 20, 40, 60], "title": "days since symptom onset", "titleFontSize": 16.5, "titleFontWeight": "normal", "titleColor": "#000000", "titlePadding": 35, "grid": true, "gridColor": "#e8e8e8", "gridWidth": 1.6, "ticks": false, "domain": false, "labelFontSize": 13.5, "labelColor": "#4d4d4d", "labelPadding": 4}},
    "y": {"field": "v", "type": "quantitative", "scale": {"domain": [13.66, 22.94], "nice": false, "zero": false}, "axis": {"orient": "left", "values": [15, 17.5, 20, 22.5], "format": ".1f", "title": null, "grid": true, "gridColor": "#e8e8e8", "gridWidth": 1.6, "ticks": false, "domain": false, "labelFontSize": 13.5, "labelColor": "#4d4d4d", "labelPadding": 8}},
    "color": {"field": "c", "type": "nominal", "scale": {"domain": ["PosCOV", "NegCOV"], "range": ["#0b4a90", "#e8141c"]}, "legend": {"orient": "none", "legendX": 116, "legendY": 425, "direction": "horizontal", "title": null, "symbolType": "M-1,-0.09H1V0.09H-1Z M0.46,0A0.46,0.46,0,1,1,-0.46,0A0.46,0.46,0,1,1,0.46,0Z", "symbolSize": 289, "symbolStrokeWidth": 0, "labelFontSize": 14, "labelColor": "#1a1a1a", "labelOffset": 7, "columnPadding": 14, "zindex": 2}}}},
  {"data": {"name": "fNc"}, "mark": {"type": "line", "strokeWidth": 1.7, "interpolate": "monotone"},
   "encoding": {"x": {"field": "d", "type": "quantitative", "scale": {"domain": [-1.9, 61.9], "nice": false, "zero": false}, "axis": null},
    "y": {"field": "f", "type": "quantitative", "scale": {"domain": [13.66, 22.94], "nice": false, "zero": false}, "axis": null},
    "stroke": {"field": "g", "type": "nominal", "scale": {"domain": ["PosCOV", "NegCOV"], "range": ["#1b2f73", "#c8101c"]}, "legend": null}}},
  {"data": {"name": "N"}, "mark": {"type": "line", "color": "#9e9e9e", "strokeWidth": 2, "strokeDash": [0.1, 6.4], "strokeCap": "round"},
   "encoding": {"x": {"field": "d", "type": "quantitative", "scale": {"domain": [-1.9, 61.9], "nice": false, "zero": false}, "axis": null},
    "y": {"field": "v", "type": "quantitative", "scale": {"domain": [13.66, 22.94], "nice": false, "zero": false}, "axis": null},
    "detail": {"field": "p", "type": "nominal"}}},
  {"data": {"values": [{"t": "p=0.157"}]}, "mark": {"type": "text", "align": "right", "baseline": "middle", "fontSize": 18, "color": "#000000"},
   "encoding": {"x": {"datum": 60, "type": "quantitative", "scale": {"domain": [-1.9, 61.9], "nice": false, "zero": false}, "axis": null},
    "y": {"datum": 21.96, "type": "quantitative", "scale": {"domain": [13.66, 22.94], "nice": false, "zero": false}, "axis": null},
    "text": {"field": "t"}}}
 ],
 "resolve": {"axis": {"x": "independent", "y": "independent"}}
}
]
}
